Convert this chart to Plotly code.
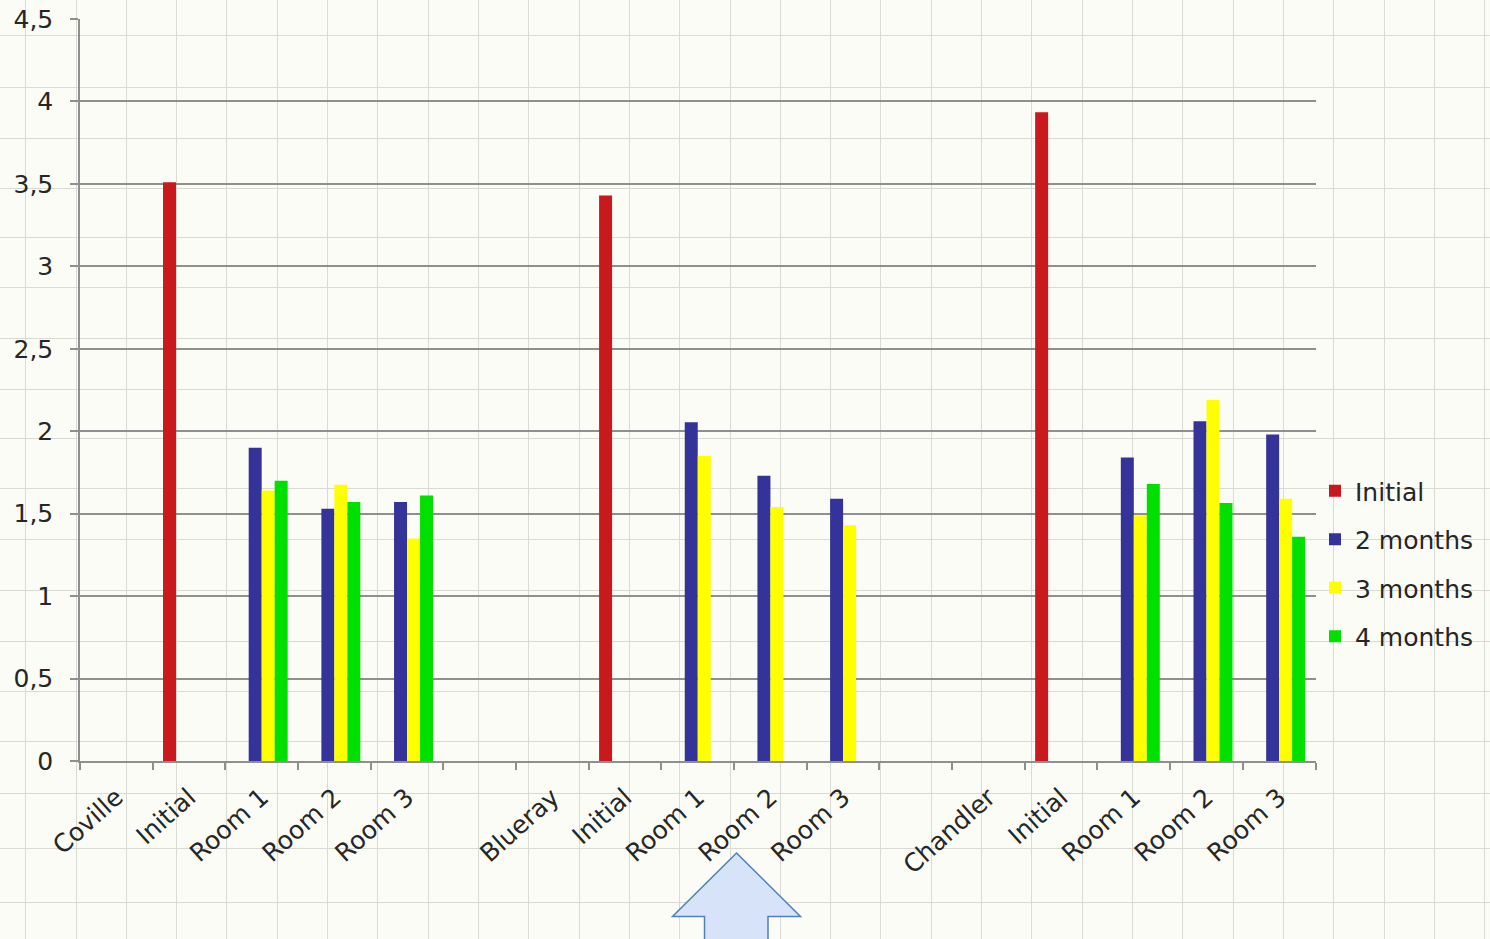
import plotly.graph_objects as go

# ---------------- data ----------------
tick_labels = ["Coville", "Initial", "Room 1", "Room 2", "Room 3", "",
               "Blueray", "Initial", "Room 1", "Room 2", "Room 3", "",
               "Chandler", "Initial", "Room 1", "Room 2", "Room 3"]
series_names = ["Initial", "2 months", "3 months", "4 months"]
initial = [None, 3.51, None, None, None, None, None, 3.43, None, None, None, None, None, 3.935, None, None, None]
two_months = [None, None, 1.90, 1.53, 1.57, None, None, None, 2.055, 1.73, 1.59, None, None, None, 1.84, 2.06, 1.98]
three_months = [None, None, 1.64, 1.675, 1.35, None, None, None, 1.85, 1.54, 1.43, None, None, None, 1.49, 2.19, 1.59]
four_months = [None, None, 1.70, 1.57, 1.61, None, None, None, None, None, None, None, None, None, 1.68, 1.565, 1.36]
y_ticks = [0, 0.5, 1, 1.5, 2, 2.5, 3, 3.5, 4, 4.5]

# ---------------- style ----------------
W, H = 1490, 939
colors = ["#c8191c", "#333399", "#ffff00", "#00e000"]
FONT = "DejaVu Sans"
TXT = "#262626"
AXC = "#8f8f8f"
BG = "#fcfcf6"
PAPER_GRID = "#dadad4"

x_pos = list(range(len(tick_labels)))
label_pos = [i for i, t in enumerate(tick_labels) if t]
label_txt = [t for t in tick_labels if t]

fig = go.Figure()

# empty trace on the background (graph paper) subplot
fig.add_trace(go.Scatter(x=[], y=[], xaxis="x", yaxis="y", showlegend=False, hoverinfo="skip"))

for name, vals, col in zip(series_names, [initial, two_months, three_months, four_months], colors):
    fig.add_trace(go.Bar(
        x=x_pos, y=vals, name=name, xaxis="x2", yaxis="y2",
        marker=dict(color=col, line=dict(width=0)),
        legendgroup=name,
    ))

# plot area in figure pixels
px_left, px_right, px_zero, px_top = 80, 1315.5, 761, 19

fig.update_layout(
    width=W, height=H,
    margin=dict(l=0, r=0, t=0, b=0, autoexpand=False),
    paper_bgcolor=BG,
    plot_bgcolor="rgba(0,0,0,0)",
    separators=", ",
    barmode="group",
    bargap=0.285,
    bargroupgap=0,
    font=dict(family=FONT, color=TXT, size=25),
    # background graph-paper grid spanning the whole picture
    xaxis=dict(domain=[0, 1], range=[0, W], anchor="y", tickmode="linear", tick0=25.7, dtick=50.31,
               showgrid=True, gridcolor=PAPER_GRID, gridwidth=1, showticklabels=False,
               zeroline=False, showline=False, ticks="", fixedrange=True),
    yaxis=dict(domain=[0, 1], range=[H, 0], anchor="x", tickmode="array",
               tickvals=[35, 87, 138, 188, 237, 287, 338, 389, 438, 488, 539, 590, 641, 691, 741, 793, 848, 902],
               showgrid=True, gridcolor=PAPER_GRID, gridwidth=1, showticklabels=False,
               zeroline=False, showline=False, ticks="", fixedrange=True),
    # chart axes
    xaxis2=dict(domain=[px_left / W, px_right / W], anchor="y2", range=[-0.5, len(tick_labels) - 0.5],
                tickmode="array", tickvals=label_pos, ticktext=label_txt, tickangle=-42,
                ticks="", showgrid=False, zeroline=False,
                showline=True, linecolor=AXC, linewidth=1.5,
                minor=dict(tick0=-0.5, dtick=1, ticks="outside", ticklen=7, tickcolor=AXC, tickwidth=1.5),
                tickfont=dict(family=FONT, size=25, color=TXT), ticklabelstandoff=10),
    yaxis2=dict(domain=[(H - px_zero) / H, (H - px_top) / H], anchor="x2", range=[0, 4.5],
                tickmode="array", tickvals=y_ticks,
                showgrid=True, gridcolor=AXC, gridwidth=1.5, zeroline=False,
                showline=True, linecolor=AXC, linewidth=1.5,
                ticks="outside", ticklen=8, tickcolor=AXC, tickwidth=1.5,
                tickfont=dict(family=FONT, size=25, color=TXT), ticklabelstandoff=12),
    legend=dict(x=1315 / W, xanchor="left", y=(H - 468) / H, yanchor="top",
                font=dict(family=FONT, size=25, color=TXT), bgcolor="rgba(0,0,0,0)",
                tracegroupgap=13, traceorder="grouped"),
    showlegend=True,
)

# decorative up arrow at the bottom (background graph paper coordinates)
fig.add_shape(type="path", xref="x", yref="y",
              path="M 736.5 853 L 800.5 916.5 L 768 916.5 L 768 950 L 704.5 950 L 704.5 916.5 L 672.5 916.5 Z",
              fillcolor="#d6e3f8", line=dict(color="#4f7fbd", width=1.5), layer="above")

fig.write_html("out.html")
